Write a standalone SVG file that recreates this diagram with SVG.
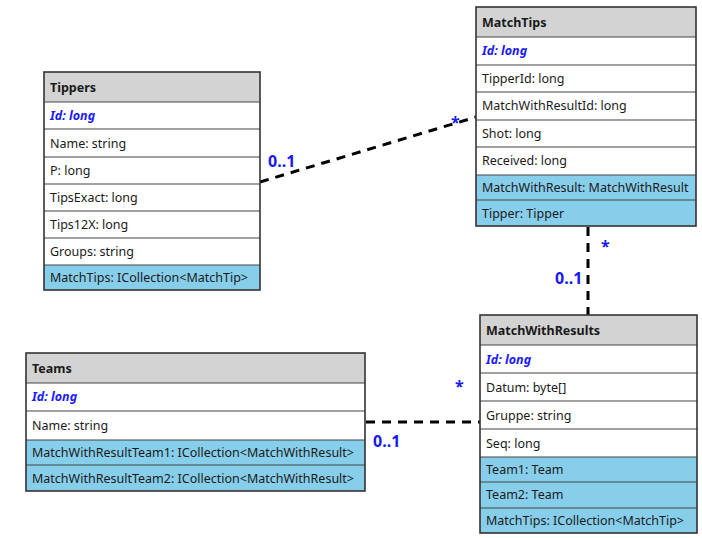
<svg xmlns="http://www.w3.org/2000/svg" width="702" height="538" viewBox="0 0 702 538">
<style>
text{font-family:"Noto Sans","Open Sans","DejaVu Sans",sans-serif;font-size:12.5px;fill:#1a1a1a}
.hd{fill:#d3d3d3}
.wr{fill:#ffffff}
.bl{fill:#87ceeb}
.sep{stroke:#444;stroke-width:1.2}
.frame{fill:none;stroke:#333;stroke-width:1.6}
.title{font-weight:bold}
.id{font-weight:bold;font-style:italic;fill:#1a1aff}
.conn{stroke:#000;stroke-width:3;stroke-dasharray:9,7;fill:none}
.lbl{font-size:16px;font-weight:bold;fill:#1a1aee}
</style>
<rect width="702" height="538" fill="#fff"/>
<g id="connectors">
<line class="conn" x1="260" y1="182" x2="476" y2="117"/>
<line class="conn" x1="588" y1="227" x2="588" y2="315"/>
<line class="conn" x1="366" y1="422" x2="480" y2="422"/>
<text class="lbl" x="268" y="167">0..1</text>
<text class="lbl" x="451" y="128">*</text>
<text class="lbl" x="601" y="252">*</text>
<text class="lbl" x="555" y="284">0..1</text>
<text class="lbl" x="455" y="392">*</text>
<text class="lbl" x="373" y="447">0..1</text>
</g>
<g id="tippers">
<rect class="hd" x="44" y="72" width="216" height="30"/>
<rect class="wr" x="44" y="102" width="216" height="163"/>
<rect class="bl" x="44" y="265" width="216" height="25"/>
<line class="sep" x1="44" y1="102" x2="260" y2="102"/>
<line class="sep" x1="44" y1="129" x2="260" y2="129"/>
<line class="sep" x1="44" y1="157" x2="260" y2="157"/>
<line class="sep" x1="44" y1="184" x2="260" y2="184"/>
<line class="sep" x1="44" y1="211" x2="260" y2="211"/>
<line class="sep" x1="44" y1="238" x2="260" y2="238"/>
<line class="sep" x1="44" y1="265" x2="260" y2="265"/>
<rect class="frame" x="44" y="72" width="216" height="218"/>
<text class="title" x="50" y="92">Tippers</text>
<text class="id" x="50" y="120">Id: long</text>
<text x="50" y="148">Name: string</text>
<text x="50" y="175">P: long</text>
<text x="50" y="202">TipsExact: long</text>
<text x="50" y="229">Tips12X: long</text>
<text x="50" y="256">Groups: string</text>
<text x="50" y="282">MatchTips: ICollection&lt;MatchTip&gt;</text>
</g>
<g id="matchtips">
<rect class="hd" x="476" y="7" width="220" height="30"/>
<rect class="wr" x="476" y="37" width="220" height="138"/>
<rect class="bl" x="476" y="175" width="220" height="51"/>
<line class="sep" x1="476" y1="37" x2="696" y2="37"/>
<line class="sep" x1="476" y1="65" x2="696" y2="65"/>
<line class="sep" x1="476" y1="92" x2="696" y2="92"/>
<line class="sep" x1="476" y1="120" x2="696" y2="120"/>
<line class="sep" x1="476" y1="147" x2="696" y2="147"/>
<line class="sep" x1="476" y1="175" x2="696" y2="175"/>
<line class="sep" x1="476" y1="200" x2="696" y2="200"/>
<rect class="frame" x="476" y="7" width="220" height="219"/>
<text class="title" x="482" y="27">MatchTips</text>
<text class="id" x="482" y="55">Id: long</text>
<text x="482" y="83">TipperId: long</text>
<text x="482" y="110">MatchWithResultId: long</text>
<text x="482" y="138">Shot: long</text>
<text x="482" y="165">Received: long</text>
<text x="482" y="192">MatchWithResult: MatchWithResult</text>
<text x="482" y="218">Tipper: Tipper</text>
</g>
<g id="teams">
<rect class="hd" x="26" y="353" width="339" height="30"/>
<rect class="wr" x="26" y="383" width="339" height="57"/>
<rect class="bl" x="26" y="440" width="339" height="51"/>
<line class="sep" x1="26" y1="383" x2="365" y2="383"/>
<line class="sep" x1="26" y1="411" x2="365" y2="411"/>
<line class="sep" x1="26" y1="440" x2="365" y2="440"/>
<line class="sep" x1="26" y1="465" x2="365" y2="465"/>
<rect class="frame" x="26" y="353" width="339" height="138"/>
<text class="title" x="32" y="373">Teams</text>
<text class="id" x="32" y="401">Id: long</text>
<text x="32" y="430">Name: string</text>
<text x="32" y="457">MatchWithResultTeam1: ICollection&lt;MatchWithResult&gt;</text>
<text x="32" y="483">MatchWithResultTeam2: ICollection&lt;MatchWithResult&gt;</text>
</g>
<g id="matchwithresults">
<rect class="hd" x="480" y="315" width="217" height="30"/>
<rect class="wr" x="480" y="345" width="217" height="112"/>
<rect class="bl" x="480" y="457" width="217" height="76"/>
<line class="sep" x1="480" y1="345" x2="697" y2="345"/>
<line class="sep" x1="480" y1="373" x2="697" y2="373"/>
<line class="sep" x1="480" y1="401" x2="697" y2="401"/>
<line class="sep" x1="480" y1="429" x2="697" y2="429"/>
<line class="sep" x1="480" y1="457" x2="697" y2="457"/>
<line class="sep" x1="480" y1="482" x2="697" y2="482"/>
<line class="sep" x1="480" y1="508" x2="697" y2="508"/>
<rect class="frame" x="480" y="315" width="217" height="218"/>
<text class="title" x="486" y="335">MatchWithResults</text>
<text class="id" x="486" y="364">Id: long</text>
<text x="486" y="392">Datum: byte[]</text>
<text x="486" y="420">Gruppe: string</text>
<text x="486" y="448">Seq: long</text>
<text x="486" y="474">Team1: Team</text>
<text x="486" y="499">Team2: Team</text>
<text x="486" y="525">MatchTips: ICollection&lt;MatchTip&gt;</text>
</g>
</svg>
